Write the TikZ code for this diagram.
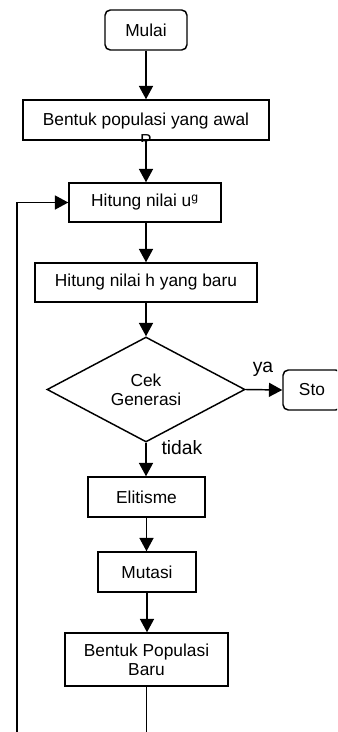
\documentclass[tikz,border=0pt]{standalone}
\usepackage{fontspec}
\setmainfont{Liberation Sans}
\usepackage{tikz}
\usetikzlibrary{arrows.meta,shapes.geometric}
\tikzset{kotak/.style={draw,line width=1.1pt,inner sep=1pt,align=center,font=\fontsize{13}{14.5}\selectfont},
    mulaibox/.style={kotak,rounded corners=4pt},
    panah/.style={line width=1.1pt,-{Triangle[width=10.5pt,length=10pt]}}}

\begin{document}
\begin{tikzpicture}[x=0.75pt,y=0.75pt,yscale=-1,xscale=1]
\useasboundingbox (0,0) rectangle (337,732);
\clip (0,0) rectangle (337,732);

%Shape: Rounded Rect
\node [mulaibox,minimum width=61.5pt,minimum height=30pt] (mulai) at (146,30) {Mulai};
%Shape: Rectangle
\node [kotak,minimum width=184.5pt,minimum height=30pt] (awal) at (146,120) {};
\begin{scope}
\clip ([shift={(0.6pt,0.6pt)}]awal.south west) rectangle ([shift={(-0.6pt,-0.6pt)}]awal.north east);
% Text Node
\node [font=\fontsize{13}{15.6}\selectfont,align=center] at (146,129.5) {Bentuk populasi yang awal\\P};
\end{scope}
%Shape: Rectangle
\node [kotak,minimum width=114pt,minimum height=29.25pt] (hitu) at (145,202.5) {Hitung nilai u\textsuperscript{g}};
%Shape: Rectangle
\node [kotak,minimum width=166.5pt,minimum height=29.25pt] (hith) at (146,282.5) {Hitung nilai h yang baru};
%Shape: Diamond
\node [kotak,diamond,aspect=1.886,minimum width=148.5pt,minimum height=78.75pt] (cek) at (146,389.5) {Cek\\Generasi};
%Shape: Rounded Rect
\node [mulaibox,minimum width=43.5pt,minimum height=30pt] (stop) at (312,390) {Sto};
%Shape: Rectangle
\node [kotak,minimum width=87.75pt,minimum height=30pt] (elit) at (146.5,497) {Elitisme};
%Shape: Rectangle
\node [kotak,minimum width=73.5pt,minimum height=30pt] (mutasi) at (147,572) {Mutasi};
%Shape: Rectangle
\node [kotak,minimum width=122.25pt,minimum height=39.75pt] (baru) at (146.5,659.5) {Bentuk Populasi\\Baru};

\coordinate (balik) at (17,770);

%Straight Lines
\draw [panah] (mulai) -- (awal);
\draw [panah] (awal) -- (hitu.north -| awal.south);
\draw [panah] (hitu.south -| awal.south) -- (hith);
\draw [panah] (hith) -- (cek);
\draw [panah] (cek.east) -- (stop.west);
\draw [panah] (cek.south) -- (elit.north -| cek.south);
\draw [panah] (elit) -- (mutasi.north -| elit.south);
\draw [panah] (mutasi) -- (baru.north -| mutasi.south);
\draw [panah] (baru.south) |- (balik) |- (hitu.west);

% Text Node
\node [font=\fontsize{14.5}{16}\selectfont] (ya) at (263,369) {ya};
% Text Node
\node [font=\fontsize{14.5}{16}\selectfont] (tidak) at (182,448) {tidak};

\end{tikzpicture}
\end{document}
